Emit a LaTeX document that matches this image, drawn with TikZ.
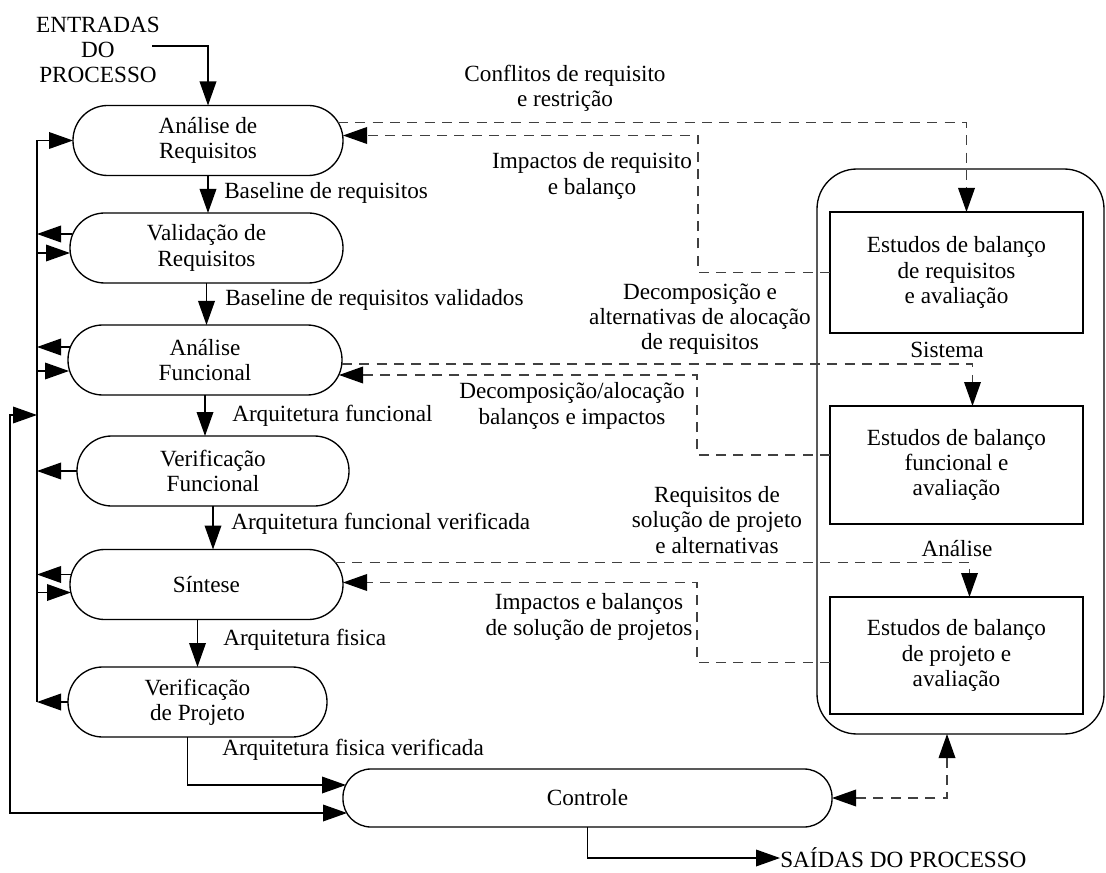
\documentclass[tikz,border=0pt]{standalone}
\usepackage{fontspec}
\setmainfont{Liberation Serif}
\usetikzlibrary{arrows.meta,calc}

\begin{document}
\begin{tikzpicture}[x=0.75pt,y=0.75pt,yscale=-1,xscale=1,
  every node/.style={font=\fontsize{17.4}{19}\selectfont},
  etapa/.style={draw,line width=1pt,rounded corners=26pt,minimum height=52.5pt,inner sep=0pt,outer sep=0pt,align=center},
  estudo/.style={draw,line width=1pt,minimum width=189.75pt,inner sep=0pt,outer sep=0pt,align=center},
  rotulo/.style={inner sep=0pt,align=center},
  fluxo/.style={line width=1pt,-{Triangle[length=18pt,width=12.5pt]}},
  duplo/.style={line width=1pt,{Triangle[length=18pt,width=12.5pt]}-{Triangle[length=18pt,width=12.5pt]}},
  tracejado/.style={line width=1pt,black!75,dash pattern=on 7.5pt off 5.5pt,-{Triangle[length=18pt,width=12.5pt,color=black]}},
]

\useasboundingbox (0,0) rectangle (1106,873);

% etapas do processo
\node[etapa,minimum width=202.5pt] (areq) at (208,140.5) {Análise de\\Requisitos};
\node[etapa,minimum width=204.75pt] (vreq) at (206.5,248) {Validação de\\Requisitos};
\node[etapa,minimum width=205.5pt] (afun) at (205,360) {Análise\\Funcional};
\node[etapa,minimum width=204pt] (vfun) at (213,471) {Verificação\\Funcional};
\node[etapa,minimum width=204.75pt] (sint) at (206.5,584.5) {Síntese};
\node[etapa,minimum width=194.25pt] (vproj) at (197.5,702) {Verificação\\de Projeto};
\node[etapa,minimum width=366.75pt,minimum height=43.5pt,rounded corners=21pt] (ctrl) at (587.5,798) {Controle};

% estudos de balanco
\node[draw,line width=1pt,rounded corners=30pt,minimum width=215.25pt,minimum height=423.75pt,inner sep=0pt,outer sep=0pt] (outr) at (960.5,451.5) {};
\node[estudo,minimum height=90.75pt] (ebr) at (956.5,272.5) {Estudos de balanço\\de requisitos\\e avaliação};
\node[estudo,minimum height=88.5pt] (ebf) at (956.5,465) {Estudos de balanço\\funcional e\\avaliação};
\node[estudo,minimum height=87.75pt] (ebp) at (956.5,655.5) {Estudos de balanço\\de projeto e\\avaliação};

% entradas e saidas
\node[rotulo] (entr) at (98,50) {ENTRADAS\\DO\\PROCESSO};
\node[rotulo,anchor=west] (said) at (780,858) {SAÍDAS DO PROCESSO};

% rotulos do fluxo principal
\node[rotulo,anchor=west] (bl1) at (224,193) {Baseline de requisitos};
\node[rotulo,anchor=west] (bl2) at (225,300) {Baseline de requisitos validados};
\node[rotulo,anchor=west] (af1) at (232,416) {Arquitetura funcional};
\node[rotulo,anchor=west] (af2) at (231,524) {Arquitetura funcional verificada};
\node[rotulo,anchor=west] (ap1) at (223,640) {Arquitetura fisica};
\node[rotulo,anchor=west] (ap2) at (222,750) {Arquitetura fisica verificada};

% rotulos dos estudos
\node[rotulo] (conf) at (565,88) {Conflitos de requisito\\e restrição};
\node[rotulo] (impr) at (592,176) {Impactos de requisito\\e balanço};
\node[rotulo] (deca) at (700,319) {Decomposição e\\alternativas de alocação\\de requisitos};
\node[rotulo] (sist) at (947,350) {Sistema};
\node[rotulo] (decb) at (572,406) {Decomposição/alocação\\balanços e impactos};
\node[rotulo] (reqs) at (717,520) {Requisitos de\\solução de projeto\\e alternativas};
\node[rotulo] (anal) at (957,549) {Análise};
\node[rotulo] (impb) at (589,617) {Impactos e balanços\\de solução de projetos};

% fluxo principal
\draw[fluxo] ($(entr.east)+(-8,-4)$) -| (areq.north);
\draw[fluxo] (areq.south) -- (areq.south |- vreq.north);
\draw[fluxo] (vreq.south) -- (vreq.south |- afun.north);
\draw[fluxo] (afun.south) -- (afun.south |- vfun.north);
\draw[fluxo] (vfun.south) -- (vfun.south |- sint.north);
\draw[fluxo] (sint.south -| vproj.north) -- (vproj.north);
\draw[fluxo] ($(vproj.south)+(-10,0)$) |- ($(ctrl.west)+(3,-13)$);
\draw[fluxo] (ctrl.south) |- (said.west);

% barramento de realimentacao
\coordinate (bus) at (37,140.5);
\coordinate (loop) at (10,415);
\draw[line width=1pt] (bus) -- (bus |- vproj.west);
\draw[fluxo] (bus) -- (areq.west);
\draw[fluxo] (vreq.west) ++(2,-14) coordinate (t1) -- (t1 -| bus);
\draw[fluxo] (vreq.west) ++(0,5) coordinate (t2) -- ++(0,0) (t2 -| bus) -- (t2);
\draw[fluxo] (afun.west) ++(2,-13) coordinate (t3) -- (t3 -| bus);
\draw[fluxo] (afun.west) ++(1,11) coordinate (t4) -- ++(0,0) (t4 -| bus) -- (t4);
\draw[fluxo] (vfun.west) -- (vfun.west -| bus);
\draw[fluxo] (sint.west) ++(1,-10) coordinate (t5) -- (t5 -| bus);
\draw[fluxo] (sint.west) ++(1,8) coordinate (t6) -- ++(0,0) (t6 -| bus) -- (t6);
\draw[fluxo] (vproj.west) -- (vproj.west -| bus);
\draw[duplo] (loop -| bus) -- (loop) |- ($(ctrl.west)+(4,15)$);

% trocas com os estudos de balanco
\draw[tracejado] ($(areq.east)+(-5,-18)$) -| ($(ebr.north)+(10,0)$);
\draw[tracejado] (ebr.west) -- ++(-132,0) |- ($(areq.east)+(0,-5)$);
\draw[tracejado] ($(afun.east)+(0,4)$) -| ($(ebf.north)+(16,0)$);
\draw[tracejado] ($(ebf.west)+(0,-10)$) -- ++(-133,0) |- ($(afun.east)+(-3,15)$);
\draw[tracejado] ($(sint.east)+(-8,-22)$) -| ($(ebp.north)+(13,0)$);
\draw[tracejado] ($(ebp.west)+(0,7)$) -- ++(-133,0) |- ($(sint.east)+(0,-2)$);
\coordinate (cpt) at ($(ctrl.east)+(115,0)$);
\draw[tracejado,{Triangle[length=18pt,width=12.5pt,color=black]}-{Triangle[length=18pt,width=12.5pt,color=black]}] (outr.south -| cpt) -- (cpt) -- (cpt -| ctrl.east);

\end{tikzpicture}
\end{document}
